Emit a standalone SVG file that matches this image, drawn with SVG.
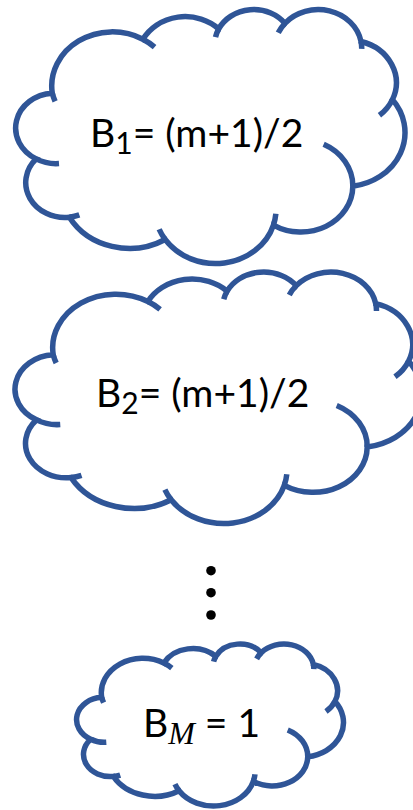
<svg xmlns="http://www.w3.org/2000/svg" xmlns:xlink="http://www.w3.org/1999/xlink" width="413" height="810" viewBox="0 0 413 810">
<style>
.outer{fill:#ffffff;stroke:#2F5597;stroke-width:5.5;vector-effect:non-scaling-stroke}
.inner{fill:none;stroke:#2F5597;stroke-width:5.5;vector-effect:non-scaling-stroke}
.t{font-family:Lato,"Open Sans","Liberation Sans",sans-serif;font-size:39px;fill:#000000}
.sub{font-size:30px}
.dot{fill:#000000}
</style>
<defs>
<path id="cloudOuter" class="outer" d="M3900 14370 A6753 9190 0 0 1 14006 5203 A5333 7267 0 0 1 22457 3433 A4365 5945 0 0 1 29834 2482 A4857 6595 0 0 1 38319 5578 A5333 7273 0 0 1 41819 15462 A6775 9220 0 0 1 37405 30205 A5785 7867 0 0 1 28557 36815 A6752 9215 0 0 1 16482 39266 A7720 10543 0 0 1 5807 35472 A4360 5918 0 0 1 2116 25550 A4345 5945 0 0 1 3900 14370 Z"/>
<path id="cloudInner" class="inner" d="M4649 26347 A4345 5945 0 0 1 2116 25550 M6916 35090 A4360 5918 0 0 1 5807 35472 M16482 39266 A6752 9215 0 0 1 15814 37526 M28824 34906 A6752 9215 0 0 1 28557 36815 M34153 23070 A5785 7867 0 0 1 37405 30205 M41819 15462 A5333 7273 0 0 1 40372 18138 M38319 5578 A4857 6595 0 0 1 38396 6841 M29092 4095 A4857 6595 0 0 1 29834 2482 M22098 4823 A4365 5945 0 0 1 22457 3433 M14006 5203 A6753 9190 0 0 1 15305 6551 M4214 15777 A6753 9190 0 0 1 3900 14370"/>
</defs>
<g id="node-b1">
<use href="#cloudOuter" transform="translate(17.3 8.7) scale(0.00897 0.005877)"/>
<use href="#cloudInner" transform="translate(17.3 8.7) scale(0.00897 0.005877)"/>
<text class="t" x="90" y="146.7">B<tspan class="sub" dy="7">1</tspan><tspan dy="-7">= (m+1)/2</tspan></text>
</g>
<g id="node-b2">
<use href="#cloudOuter" transform="translate(16.7 271.2) scale(0.00937 0.005819)"/>
<use href="#cloudInner" transform="translate(16.7 271.2) scale(0.00937 0.005819)"/>
<text class="t" x="96" y="406.7">B<tspan class="sub" dy="7">2</tspan><tspan dy="-7">= (m+1)/2</tspan></text>
</g>
<g id="ellipsis">
<circle class="dot" cx="211" cy="570.7" r="4.8"/>
<circle class="dot" cx="211" cy="592.7" r="4.8"/>
<circle class="dot" cx="211" cy="615" r="4.8"/>
</g>
<g id="node-bm">
<use href="#cloudOuter" transform="translate(77.7 643.5) scale(0.00615 0.003748)"/>
<use href="#cloudInner" transform="translate(77.7 643.5) scale(0.00615 0.003748)"/>
<text class="t" x="143" y="736.7">B<tspan dy="7" style="font-family:'Liberation Serif',serif;font-style:italic;font-size:32px">M</tspan><tspan dy="-7"> = 1</tspan></text>
</g>
</svg>
